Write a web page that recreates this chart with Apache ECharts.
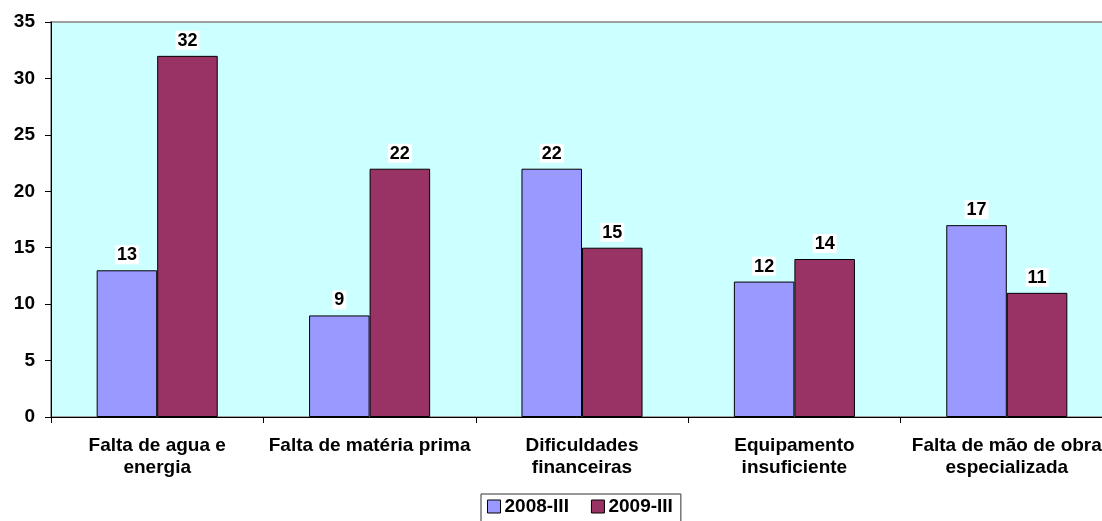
<!DOCTYPE html>
<html><head><meta charset="utf-8">
<script src="https://cdn.jsdelivr.net/npm/echarts@6/dist/echarts.min.js"></script>
<style>html,body{margin:0;padding:0;background:#fff}#c{width:1102px;height:521px}</style>
</head><body><div id="c"></div>
<script>
const categories = ["Falta de agua e\nenergia", "Falta de matéria prima", "Dificuldades\nfinanceiras", "Equipamento\ninsuficiente", "Falta de mão de obra\nespecializada"];
const seriesNames = ["2008-III", "2009-III"];
const values2008 = [13, 9, 22, 12, 17];
const values2009 = [32, 22, 15, 14, 11];
const yTicks = [0, 5, 10, 15, 20, 25, 30, 35];

const font = 'Arial, "Liberation Sans", sans-serif';
const chart = echarts.init(document.getElementById('c'));
const labelCfg = {
  show: true, position: 'top', distance: 6,
  color: '#000', fontFamily: font, fontWeight: 'bold', fontSize: 18,
  backgroundColor: '#fff', padding: [1, 2, 0, 2]
};
chart.setOption({
  animation: false,
  textStyle: { fontFamily: font },
  grid: { left: 51, top: 22, width: 1062, height: 395, show: true, backgroundColor: '#CCFFFF', borderColor: '#A0A0A0', borderWidth: 2, containLabel: false, outerBoundsMode: 'none' },
  legend: {
    data: seriesNames, top: 494, left: 481,
    borderColor: '#333', borderWidth: 1, padding: [3, 8, 6, 6],
    itemWidth: 13, itemHeight: 13, itemGap: 22,
    icon: 'rect',
    itemStyle: { borderColor: '#000', borderWidth: 1 },
    textStyle: { fontFamily: font, fontWeight: 'bold', fontSize: 19, color: '#000', padding: [0, 0, 0, -1] }
  },
  xAxis: {
    type: 'category', data: categories,
    axisLine: { lineStyle: { color: '#000', width: 1 } },
    axisTick: { show: true, length: 6, lineStyle: { color: '#000' } },
    axisLabel: { fontFamily: font, fontWeight: 'bold', fontSize: 19, color: '#000', lineHeight: 22, margin: 18, interval: 0 },
    splitLine: { show: false }
  },
  yAxis: {
    type: 'value', min: yTicks[0], max: yTicks[yTicks.length - 1], interval: 5,
    axisLine: { show: true, lineStyle: { color: '#000', width: 1 } },
    axisTick: { show: true, length: 6, lineStyle: { color: '#000' } },
    axisLabel: { fontFamily: font, fontWeight: 'bold', fontSize: 19, color: '#000', margin: 16 },
    splitLine: { show: false }
  },
  series: [
    { name: seriesNames[0], type: 'bar', data: values2008, barGap: '0%', barCategoryGap: '43%',
      itemStyle: { color: '#9999FF', borderColor: '#000', borderWidth: 1 }, label: labelCfg },
    { name: seriesNames[1], type: 'bar', data: values2009, barGap: '0%', barCategoryGap: '43%',
      itemStyle: { color: '#993366', borderColor: '#000', borderWidth: 1 }, label: labelCfg }
  ]
});
</script></body></html>
